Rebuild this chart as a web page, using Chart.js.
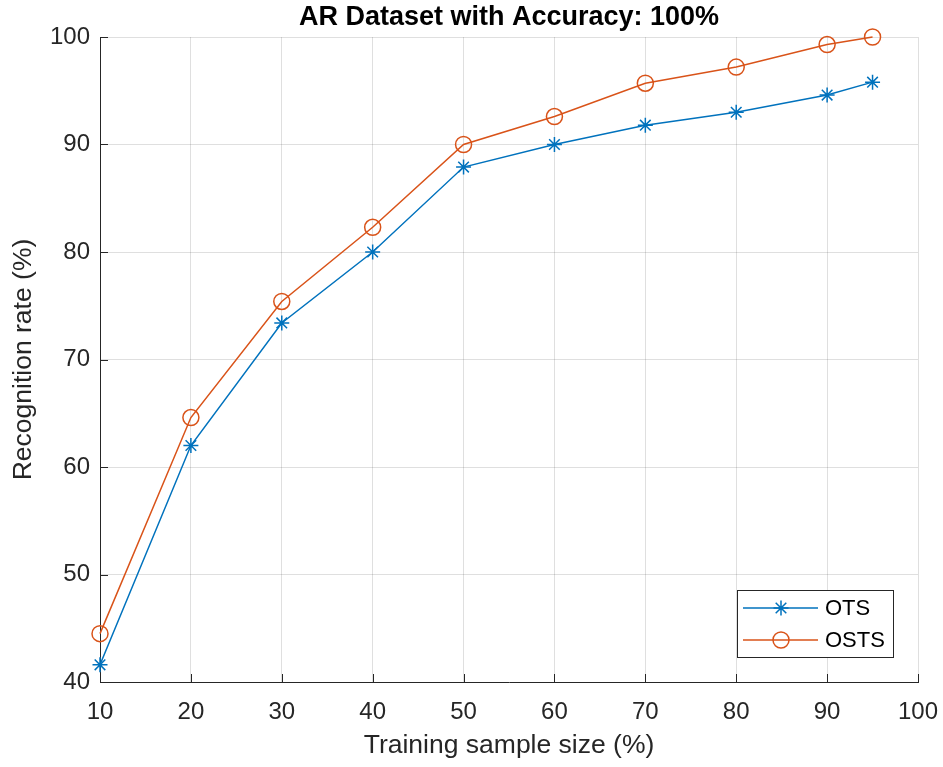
<!DOCTYPE html>
<html>
<head>
<meta charset="utf-8">
<script src="https://cdn.jsdelivr.net/npm/chart.js@4.4.1/dist/chart.umd.min.js"></script>
<style>
  body { margin: 0; background: #fff; }
</style>
</head>
<body>
<canvas id="grafico" width="943" height="767"></canvas>
<script>
const trainingSize = [10, 20, 30, 40, 50, 60, 70, 80, 90, 95]
const otsRate = [41.6, 62.0, 73.4, 80.0, 87.9, 90.0, 91.8, 93.0, 94.6, 95.8]
const ostsRate = [44.5, 64.6, 75.4, 82.3, 90.0, 92.6, 95.7, 97.2, 99.3, 100.0]
const xTicks = [10, 20, 30, 40, 50, 60, 70, 80, 90, 100]
const yTicks = [40, 50, 60, 70, 80, 90, 100]
const titulo = 'AR Dataset with Accuracy: 100%'

const azul = '#0072BD'
const laranja = '#D95319'
const eixoCor = '#262626'
const fonte = 'Liberation Sans, Arial, Helvetica, sans-serif'

function pontos(valores) {
  return trainingSize.map((x, i) => ({ x: x, y: valores[i] }))
}

// title centred over the plot area (matlab style) instead of the canvas
const tituloEixos = {
  id: 'tituloEixos',
  afterDraw(chart) {
    const ctx = chart.ctx
    const area = chart.chartArea
    ctx.save()
    ctx.fillStyle = '#000'
    ctx.font = 'bold 27px ' + fonte
    ctx.textAlign = 'center'
    ctx.textBaseline = 'middle'
    ctx.fillText(titulo, (area.left + area.right) / 2, area.top - 19)
    ctx.restore()
  }
}

// tick marks pointing into the plot, like matlab
const ticksParaDentro = {
  id: 'ticksParaDentro',
  afterDraw(chart) {
    const ctx = chart.ctx
    const area = chart.chartArea
    const sx = chart.scales.x
    const sy = chart.scales.y
    ctx.save()
    ctx.strokeStyle = eixoCor
    ctx.lineWidth = 1
    ctx.beginPath()
    xTicks.forEach(v => {
      const px = Math.round(sx.getPixelForValue(v)) + 0.5
      ctx.moveTo(px, area.bottom)
      ctx.lineTo(px, area.bottom - 8)
    })
    yTicks.forEach(v => {
      const py = Math.round(sy.getPixelForValue(v)) + 0.5
      ctx.moveTo(area.left, py)
      ctx.lineTo(area.left + 8, py)
    })
    ctx.stroke()
    ctx.restore()
  }
}

// boxed legend inside the lower right corner
const legendaCaixa = {
  id: 'legendaCaixa',
  afterDraw(chart) {
    const ctx = chart.ctx
    const area = chart.chartArea
    const w = 156, h = 67
    const x0 = area.right - 181, y0 = area.bottom - 92
    ctx.save()
    ctx.fillStyle = '#fff'
    ctx.fillRect(x0, y0, w, h)
    ctx.strokeStyle = eixoCor
    ctx.lineWidth = 1
    ctx.strokeRect(x0 + 0.5, y0 + 0.5, w, h)
    chart.data.datasets.forEach((ds, i) => {
      const yy = y0 + 18 + i * 32
      ctx.strokeStyle = ds.borderColor
      ctx.lineWidth = ds.borderWidth
      ctx.beginPath()
      ctx.moveTo(x0 + 6, yy)
      ctx.lineTo(x0 + 81, yy)
      ctx.stroke()
      ctx.fillStyle = 'rgba(0,0,0,0)'
      Chart.helpers.drawPoint(ctx, {
        pointStyle: ds.pointStyle,
        radius: ds.pointRadius,
        borderWidth: ds.borderWidth,
        rotation: 0
      }, x0 + 44, yy)
      ctx.fillStyle = '#000'
      ctx.font = '22px ' + fonte
      ctx.textBaseline = 'middle'
      ctx.fillText(ds.label, x0 + 88, yy + 1)
    })
    ctx.restore()
  }
}

const graficoReconhecimento = new Chart(document.querySelector('#grafico'), {
  type: 'line',
  data: {
    datasets: [{
      label: 'OTS',
      data: pontos(otsRate),
      borderColor: azul,
      backgroundColor: 'rgba(0,0,0,0)',
      borderWidth: 1.5,
      pointStyle: 'star',
      pointRadius: 7.5,
      pointBorderColor: azul,
      pointBackgroundColor: 'rgba(0,0,0,0)',
      order: 2,
      clip: false
    }, {
      label: 'OSTS',
      data: pontos(ostsRate),
      borderColor: laranja,
      backgroundColor: 'rgba(0,0,0,0)',
      borderWidth: 1.5,
      pointStyle: 'circle',
      pointRadius: 8,
      pointBorderColor: laranja,
      pointBackgroundColor: 'rgba(0,0,0,0)',
      order: 1,
      clip: false
    }]
  },
  options: {
    responsive: false,
    animation: false,
    devicePixelRatio: 1,
    layout: { padding: { left: 0, right: 25, top: 37, bottom: 0 } },
    plugins: {
      legend: { display: false },
      tooltip: { enabled: false },
      title: { display: false }
    },
    scales: {
      x: {
        type: 'linear',
        min: 10,
        max: 100,
        afterFit(scale) {
          scale.height = 85
          scale.paddingLeft = 0
          scale.paddingRight = 0
        },
        afterBuildTicks(scale) { scale.ticks = xTicks.map(v => ({ value: v })) },
        grid: { color: 'rgba(38,38,38,0.15)', drawTicks: false },
        border: { color: eixoCor, width: 1 },
        ticks: {
          color: eixoCor,
          padding: 16,
          maxRotation: 0,
          font: { family: fonte, size: 24 }
        },
        title: {
          display: true,
          text: 'Training sample size (%)',
          color: eixoCor,
          font: { family: fonte, size: 26.5 },
          padding: { top: 0, bottom: 5 }
        }
      },
      y: {
        min: 40,
        max: 100,
        afterFit(scale) {
          scale.width = 100
          scale.paddingTop = 0
          scale.paddingBottom = 0
        },
        afterBuildTicks(scale) { scale.ticks = yTicks.map(v => ({ value: v })) },
        grid: { color: 'rgba(38,38,38,0.15)', drawTicks: false },
        border: { color: eixoCor, width: 1 },
        ticks: {
          color: eixoCor,
          padding: 10,
          font: { family: fonte, size: 24 }
        },
        title: {
          display: true,
          text: 'Recognition rate (%)',
          color: eixoCor,
          font: { family: fonte, size: 26.5 },
          padding: { top: 8, bottom: 0 }
        }
      }
    }
  },
  plugins: [tituloEixos, ticksParaDentro, legendaCaixa]
})
</script>
</body>
</html>
